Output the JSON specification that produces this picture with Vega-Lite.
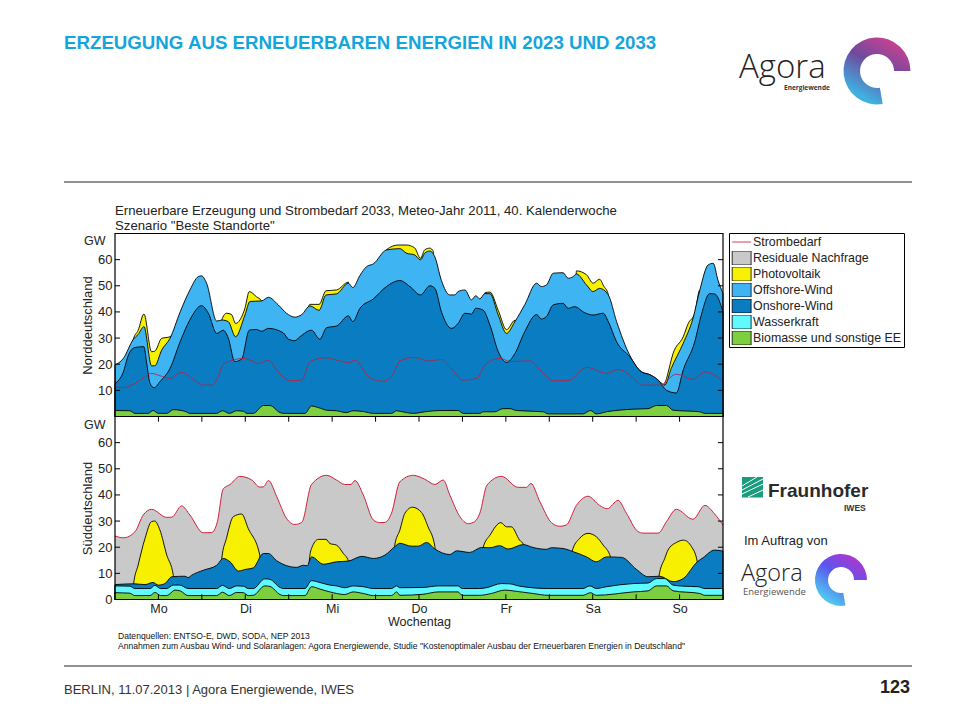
{
"$schema":"https://vega.github.io/schema/vega-lite/v6.json",
"width":960,"height":720,"padding":0,"autosize":{"type":"fit","contains":"padding"},
"background":"white",
"config":{"view":{"stroke":null},"font":"Liberation Sans","text":{"font":"Liberation Sans","baseline":"alphabetic"}},
"datasets":{
"frame":[{"h0":0,"h1":168,"g0":0,"g1":70}],
"xt":[{"h":12,"g0":68,"g1":70},{"h":24,"g0":68,"g1":70},{"h":36,"g0":68,"g1":70},{"h":48,"g0":68,"g1":70},{"h":60,"g0":68,"g1":70},{"h":72,"g0":68,"g1":70},{"h":84,"g0":68,"g1":70},{"h":96,"g0":68,"g1":70},{"h":108,"g0":68,"g1":70},{"h":120,"g0":68,"g1":70},{"h":132,"g0":68,"g1":70},{"h":144,"g0":68,"g1":70},{"h":156,"g0":68,"g1":70},{"h":12,"g0":0,"g1":2},{"h":24,"g0":0,"g1":2},{"h":36,"g0":0,"g1":2},{"h":48,"g0":0,"g1":2},{"h":60,"g0":0,"g1":2},{"h":72,"g0":0,"g1":2},{"h":84,"g0":0,"g1":2},{"h":96,"g0":0,"g1":2},{"h":108,"g0":0,"g1":2},{"h":120,"g0":0,"g1":2},{"h":132,"g0":0,"g1":2},{"h":144,"g0":0,"g1":2},{"h":156,"g0":0,"g1":2}],
"yt":[{"v":10,"a":0,"b":1.4},{"v":20,"a":0,"b":1.4},{"v":30,"a":0,"b":1.4},{"v":40,"a":0,"b":1.4},{"v":50,"a":0,"b":1.4},{"v":60,"a":0,"b":1.4},{"v":10,"a":168,"b":166.6},{"v":20,"a":168,"b":166.6},{"v":30,"a":168,"b":166.6},{"v":40,"a":168,"b":166.6},{"v":50,"a":168,"b":166.6},{"v":60,"a":168,"b":166.6}],
"n_off":[{"h":0,"gw":19.7},{"h":2.3,"gw":22.2},{"h":5.1,"gw":29.6},{"h":6.4,"gw":31.4},{"h":8,"gw":34.4},{"h":10.1,"gw":19.4},{"h":11,"gw":19.4},{"h":12.9,"gw":25.4},{"h":15.2,"gw":29.9},{"h":18,"gw":40},{"h":20.7,"gw":48.4},{"h":23,"gw":53.5},{"h":23.9,"gw":53.8},{"h":25.3,"gw":51},{"h":28.1,"gw":36.5},{"h":29.5,"gw":36.9},{"h":31.3,"gw":36.3},{"h":33.3,"gw":30.5},{"h":35.9,"gw":38.8},{"h":37.3,"gw":44},{"h":40.5,"gw":44.2},{"h":42.4,"gw":45.6},{"h":45.1,"gw":42.7},{"h":47.4,"gw":39.5},{"h":49.7,"gw":38},{"h":51.6,"gw":39},{"h":53.9,"gw":42.3},{"h":56.4,"gw":40.6},{"h":58.3,"gw":46.5},{"h":61.2,"gw":46.9},{"h":64.5,"gw":51},{"h":65.7,"gw":49.3},{"h":67.7,"gw":54},{"h":69.5,"gw":57.3},{"h":71.4,"gw":58.4},{"h":75,"gw":63.7},{"h":78.7,"gw":64.2},{"h":80.5,"gw":62.5},{"h":82.8,"gw":61.8},{"h":84.4,"gw":59.9},{"h":85.6,"gw":62.5},{"h":87,"gw":63.3},{"h":88.4,"gw":61},{"h":90.2,"gw":52},{"h":92.5,"gw":46.5},{"h":93.9,"gw":46.5},{"h":94.8,"gw":47.8},{"h":96.7,"gw":48.4},{"h":98.5,"gw":44.6},{"h":99.7,"gw":46.2},{"h":100.8,"gw":45},{"h":102.2,"gw":47},{"h":103.6,"gw":47},{"h":105.9,"gw":38.8},{"h":108.2,"gw":31.8},{"h":110.5,"gw":36.3},{"h":113.2,"gw":42.7},{"h":116.5,"gw":51},{"h":117.8,"gw":49.7},{"h":119.2,"gw":50.3},{"h":121.1,"gw":54.8},{"h":123.8,"gw":55},{"h":125.2,"gw":52.9},{"h":126.6,"gw":53.5},{"h":127.5,"gw":54.5},{"h":130.3,"gw":50.3},{"h":132.1,"gw":47.8},{"h":133.9,"gw":49},{"h":136.3,"gw":46.5},{"h":138.6,"gw":36.3},{"h":142.2,"gw":23.5},{"h":145.5,"gw":17.1},{"h":147.8,"gw":16},{"h":150.1,"gw":13.9},{"h":151.9,"gw":12},{"h":153.7,"gw":18.4},{"h":157,"gw":28},{"h":159.7,"gw":37.5},{"h":161.6,"gw":48.4},{"h":163.9,"gw":58},{"h":165.3,"gw":58.6},{"h":166.6,"gw":52.2},{"h":168,"gw":47.1}],
"n_pv":[{"h":0,"gw":0},{"h":4.8,"gw":0},{"h":5.1,"gw":29.6},{"h":6.4,"gw":33},{"h":8,"gw":39.2},{"h":10.1,"gw":24.8},{"h":11,"gw":25},{"h":12.9,"gw":29.9},{"h":15.2,"gw":30.5},{"h":16.1,"gw":31.5},{"h":16.5,"gw":0},{"h":29,"gw":0},{"h":29.5,"gw":36.9},{"h":30.8,"gw":39.5},{"h":32.2,"gw":39},{"h":33.3,"gw":35.6},{"h":35.9,"gw":41.4},{"h":37.1,"gw":47.8},{"h":39.1,"gw":45.8},{"h":40.5,"gw":44.2},{"h":40.8,"gw":0},{"h":53,"gw":0},{"h":53.5,"gw":42.2},{"h":53.9,"gw":42.9},{"h":56.4,"gw":42.9},{"h":58.3,"gw":48.1},{"h":61.2,"gw":48.4},{"h":64.5,"gw":51.4},{"h":64.8,"gw":0},{"h":74.5,"gw":0},{"h":75,"gw":63.8},{"h":78.3,"gw":65.6},{"h":80.5,"gw":65.6},{"h":82.8,"gw":64.5},{"h":84.4,"gw":60.5},{"h":85.6,"gw":63.8},{"h":87,"gw":64.4},{"h":88,"gw":63},{"h":88.3,"gw":0},{"h":101.8,"gw":0},{"h":102.2,"gw":47.3},{"h":103.6,"gw":47.6},{"h":105.9,"gw":40.6},{"h":108.2,"gw":33.2},{"h":110.5,"gw":36.8},{"h":110.8,"gw":0},{"h":126.8,"gw":0},{"h":127.5,"gw":55.7},{"h":130.3,"gw":54.2},{"h":132.1,"gw":51},{"h":133.9,"gw":52.5},{"h":135,"gw":50},{"h":136.3,"gw":46.7},{"h":136.6,"gw":0},{"h":151.6,"gw":0},{"h":151.9,"gw":12.2},{"h":152.4,"gw":14.5},{"h":154.2,"gw":24.1},{"h":157,"gw":30.5},{"h":158.4,"gw":35.6},{"h":160.2,"gw":39.5},{"h":161.6,"gw":48.4},{"h":161.9,"gw":0},{"h":168,"gw":0}],
"n_on":[{"h":0,"gw":12.6},{"h":2.3,"gw":17},{"h":3.7,"gw":23.5},{"h":5.5,"gw":26.4},{"h":8,"gw":26.7},{"h":8.7,"gw":21},{"h":9.7,"gw":12.6},{"h":10.8,"gw":11},{"h":12.4,"gw":13.3},{"h":15.2,"gw":18.4},{"h":18,"gw":28.6},{"h":20.7,"gw":37},{"h":23.9,"gw":42.4},{"h":25.8,"gw":39.5},{"h":28.1,"gw":31.8},{"h":29.9,"gw":33},{"h":31.3,"gw":30},{"h":33.1,"gw":21},{"h":35,"gw":22},{"h":37.1,"gw":33},{"h":39.1,"gw":33.3},{"h":40.5,"gw":32.6},{"h":42.4,"gw":33.7},{"h":46.5,"gw":32},{"h":47.9,"gw":29.6},{"h":49.7,"gw":29},{"h":51.1,"gw":30.5},{"h":54.3,"gw":33},{"h":56.6,"gw":29.6},{"h":58.5,"gw":34},{"h":61.2,"gw":34.6},{"h":64.5,"gw":38.5},{"h":65.7,"gw":36.3},{"h":67.7,"gw":41.4},{"h":71.4,"gw":45},{"h":75,"gw":49.7},{"h":78.7,"gw":52},{"h":81.5,"gw":49.7},{"h":84.4,"gw":46.5},{"h":87,"gw":50},{"h":88.4,"gw":49},{"h":90.2,"gw":40},{"h":93,"gw":33.7},{"h":94.8,"gw":35.6},{"h":96.7,"gw":39.5},{"h":98.5,"gw":39.2},{"h":99.7,"gw":41.4},{"h":101.7,"gw":40.7},{"h":103.6,"gw":35},{"h":105.9,"gw":24.8},{"h":108.2,"gw":20.7},{"h":110.5,"gw":24.1},{"h":113.2,"gw":32.4},{"h":116.5,"gw":39},{"h":117.8,"gw":37.3},{"h":119.2,"gw":38.2},{"h":121.1,"gw":42.7},{"h":123.8,"gw":43.3},{"h":125.2,"gw":41.4},{"h":127,"gw":42},{"h":129.8,"gw":39.7},{"h":132.1,"gw":38.8},{"h":134.9,"gw":39.5},{"h":136.3,"gw":36.3},{"h":138.6,"gw":28.6},{"h":142.2,"gw":22.9},{"h":145.5,"gw":17},{"h":147.8,"gw":16},{"h":150.1,"gw":13.9},{"h":152.4,"gw":10},{"h":155.1,"gw":9},{"h":157,"gw":17.8},{"h":160.2,"gw":28.6},{"h":162,"gw":38.8},{"h":164.3,"gw":47},{"h":165.7,"gw":46.9},{"h":168,"gw":40}],
"n_bio":[{"h":0,"gw":2.3},{"h":4.1,"gw":2.2},{"h":5.5,"gw":1.2},{"h":9.2,"gw":1.2},{"h":10.5,"gw":2.3},{"h":12,"gw":1.2},{"h":14.3,"gw":1.2},{"h":16.1,"gw":2.6},{"h":19.3,"gw":2},{"h":20.7,"gw":1.2},{"h":28.1,"gw":1.2},{"h":29.7,"gw":2.2},{"h":31.6,"gw":1.2},{"h":33.6,"gw":2.2},{"h":35.5,"gw":2},{"h":36.4,"gw":1.2},{"h":38.2,"gw":1.2},{"h":41,"gw":4.2},{"h":42.8,"gw":4.2},{"h":45.6,"gw":1.5},{"h":46.5,"gw":1.2},{"h":52.5,"gw":1.2},{"h":54.3,"gw":4},{"h":56.2,"gw":3.4},{"h":58.5,"gw":2.4},{"h":61.2,"gw":2.2},{"h":64,"gw":1.5},{"h":65.8,"gw":2.2},{"h":68.6,"gw":1.9},{"h":71.4,"gw":1.2},{"h":76.4,"gw":1.2},{"h":77.8,"gw":2.2},{"h":78.7,"gw":2},{"h":82.4,"gw":1.2},{"h":85.6,"gw":1.8},{"h":89.8,"gw":2.3},{"h":94.8,"gw":2.3},{"h":96.2,"gw":1.2},{"h":100.8,"gw":1.2},{"h":101.7,"gw":1.8},{"h":104.9,"gw":1.8},{"h":107.2,"gw":3},{"h":109.1,"gw":3},{"h":110.9,"gw":2.3},{"h":118.3,"gw":1.8},{"h":119.7,"gw":1},{"h":129.3,"gw":1},{"h":131.4,"gw":2.3},{"h":133,"gw":1},{"h":135.8,"gw":1.8},{"h":143.2,"gw":2.8},{"h":147.3,"gw":3},{"h":149.6,"gw":4.2},{"h":152.4,"gw":4.2},{"h":154.2,"gw":2.4},{"h":161.6,"gw":1.8},{"h":163,"gw":1.2},{"h":168,"gw":1.2}],
"n_dem":[{"h":0,"gw":11.4},{"h":2.3,"gw":11},{"h":5.1,"gw":12.3},{"h":7.9,"gw":14.8},{"h":10.1,"gw":16.5},{"h":12.4,"gw":15.6},{"h":15.2,"gw":14.6},{"h":18.4,"gw":16.9},{"h":21.2,"gw":14.6},{"h":24.4,"gw":12},{"h":26.7,"gw":12},{"h":28.5,"gw":15.2},{"h":29.9,"gw":19.9},{"h":32.7,"gw":21.6},{"h":35.5,"gw":22.2},{"h":37.8,"gw":21.3},{"h":39.6,"gw":20.3},{"h":42.4,"gw":21.5},{"h":45.1,"gw":17},{"h":48.3,"gw":13.7},{"h":51.6,"gw":13.9},{"h":53.9,"gw":21},{"h":58.5,"gw":22.5},{"h":61.2,"gw":21.6},{"h":64.5,"gw":20.6},{"h":66.3,"gw":21.6},{"h":70.4,"gw":14.8},{"h":74.1,"gw":13.5},{"h":76.4,"gw":15.2},{"h":78.7,"gw":21.2},{"h":82.8,"gw":22.6},{"h":86.5,"gw":21.2},{"h":90.2,"gw":21.8},{"h":92.5,"gw":19},{"h":96.2,"gw":13.9},{"h":99.9,"gw":14.6},{"h":102.6,"gw":20.3},{"h":106.3,"gw":22.2},{"h":109.5,"gw":21},{"h":114.6,"gw":21.3},{"h":118.3,"gw":16.5},{"h":121.1,"gw":13.7},{"h":125.2,"gw":13.7},{"h":130.3,"gw":18.8},{"h":135.8,"gw":16.5},{"h":139,"gw":18},{"h":143.2,"gw":14.8},{"h":145.5,"gw":12},{"h":150.5,"gw":12},{"h":155.1,"gw":16.2},{"h":159.7,"gw":14.2},{"h":163,"gw":17.1},{"h":168,"gw":13.5}],
"s_dem":[{"h":0,"gw":24.3},{"h":2.3,"gw":23.6},{"h":5.5,"gw":25.9},{"h":7.8,"gw":32.3},{"h":10.1,"gw":34.5},{"h":14.3,"gw":31.4},{"h":15.7,"gw":31.5},{"h":18.4,"gw":35.8},{"h":20.7,"gw":32.3},{"h":24.4,"gw":25.5},{"h":26.7,"gw":25.6},{"h":28.3,"gw":29.8},{"h":29.9,"gw":42.3},{"h":31.8,"gw":44},{"h":34.5,"gw":47.1},{"h":37.8,"gw":45.7},{"h":40,"gw":43},{"h":41,"gw":43.1},{"h":42.4,"gw":45.5},{"h":44.7,"gw":39.3},{"h":47.4,"gw":31},{"h":49.7,"gw":28.7},{"h":51.6,"gw":29.5},{"h":54.3,"gw":44},{"h":58.5,"gw":47.5},{"h":61.2,"gw":45.7},{"h":63.5,"gw":44},{"h":65.2,"gw":44},{"h":66.3,"gw":45.5},{"h":68.6,"gw":40},{"h":71.4,"gw":30.4},{"h":73.2,"gw":29.4},{"h":74.6,"gw":29.5},{"h":76.4,"gw":33},{"h":78.7,"gw":45},{"h":82.4,"gw":47.5},{"h":85.6,"gw":46},{"h":88.4,"gw":44},{"h":90.7,"gw":45.7},{"h":92.5,"gw":40},{"h":95.3,"gw":31.7},{"h":97.6,"gw":29},{"h":99.4,"gw":29.8},{"h":100.8,"gw":33},{"h":102.8,"gw":43.8},{"h":106.8,"gw":47.1},{"h":111.4,"gw":42.9},{"h":113.7,"gw":42.9},{"h":114.9,"gw":44.4},{"h":117.4,"gw":37.4},{"h":120.6,"gw":29.4},{"h":122.9,"gw":28},{"h":124.7,"gw":28.5},{"h":127.5,"gw":36},{"h":130.7,"gw":39.5},{"h":133.9,"gw":36},{"h":136,"gw":34.7},{"h":139,"gw":37.9},{"h":141.3,"gw":33},{"h":144.5,"gw":26},{"h":145.9,"gw":25.4},{"h":150.1,"gw":25.4},{"h":152.4,"gw":29.8},{"h":155.1,"gw":34.5},{"h":159.7,"gw":30.7},{"h":163,"gw":36},{"h":165.7,"gw":32.7},{"h":168,"gw":28.5}],
"s_pv":[{"h":0,"gw":0},{"h":4.8,"gw":0},{"h":5.1,"gw":5.5},{"h":6.4,"gw":13.2},{"h":8.3,"gw":23.4},{"h":10.1,"gw":29.8},{"h":11,"gw":30},{"h":12.4,"gw":26.6},{"h":14.3,"gw":17},{"h":16.1,"gw":9.3},{"h":16.5,"gw":0},{"h":29.2,"gw":0},{"h":29.5,"gw":15.7},{"h":30.8,"gw":23.4},{"h":32.7,"gw":31.7},{"h":35,"gw":32.7},{"h":36.8,"gw":27.2},{"h":40,"gw":17},{"h":40.3,"gw":0},{"h":53.4,"gw":0},{"h":53.7,"gw":15},{"h":54.3,"gw":19.5},{"h":56.2,"gw":23},{"h":58.3,"gw":23},{"h":59.4,"gw":21.4},{"h":61.2,"gw":20.8},{"h":63.1,"gw":17.6},{"h":64.5,"gw":14.7},{"h":64.8,"gw":0},{"h":76.7,"gw":0},{"h":77.3,"gw":20.8},{"h":78.7,"gw":26.5},{"h":80.1,"gw":33},{"h":82.2,"gw":35.3},{"h":84.7,"gw":33.3},{"h":86.5,"gw":27.8},{"h":88.4,"gw":20.2},{"h":88.7,"gw":0},{"h":101.4,"gw":0},{"h":101.7,"gw":19.8},{"h":103.6,"gw":24.6},{"h":106.6,"gw":29.4},{"h":108.2,"gw":27.8},{"h":109.5,"gw":27.8},{"h":111.8,"gw":22.7},{"h":112.9,"gw":21},{"h":113.2,"gw":0},{"h":126,"gw":0},{"h":126.3,"gw":18.5},{"h":128.4,"gw":23.4},{"h":130.7,"gw":25.3},{"h":133,"gw":24},{"h":134.9,"gw":20.8},{"h":136.9,"gw":16.3},{"h":137.2,"gw":0},{"h":150.1,"gw":0},{"h":150.3,"gw":8.9},{"h":151.9,"gw":15.7},{"h":152.8,"gw":18.9},{"h":155.1,"gw":21.8},{"h":157.1,"gw":22.7},{"h":159.3,"gw":20.2},{"h":160.9,"gw":14.4},{"h":161.2,"gw":0},{"h":168,"gw":0}],
"s_on":[{"h":0,"gw":5.7},{"h":5.1,"gw":6},{"h":8.3,"gw":5.7},{"h":10.5,"gw":6.5},{"h":12,"gw":5.5},{"h":13.8,"gw":6.1},{"h":15.7,"gw":8.7},{"h":19.3,"gw":8.9},{"h":20.2,"gw":8.4},{"h":21.2,"gw":9.3},{"h":24.4,"gw":11.2},{"h":28.1,"gw":13.1},{"h":29.9,"gw":15.7},{"h":31.8,"gw":14.4},{"h":34.1,"gw":10.9},{"h":36,"gw":11.5},{"h":38.2,"gw":12.1},{"h":41,"gw":17.6},{"h":42.4,"gw":17.6},{"h":44.7,"gw":14.8},{"h":50.2,"gw":12.3},{"h":52,"gw":13.1},{"h":53.1,"gw":12.9},{"h":54.3,"gw":16.3},{"h":57.6,"gw":13.5},{"h":61.2,"gw":14.4},{"h":64.5,"gw":14.7},{"h":68.2,"gw":16.5},{"h":71.4,"gw":15.7},{"h":74.6,"gw":17},{"h":77.3,"gw":20.2},{"h":78.7,"gw":21.5},{"h":81.9,"gw":20.4},{"h":83.8,"gw":20.4},{"h":86.1,"gw":21.8},{"h":88.4,"gw":19.3},{"h":92.5,"gw":17.2},{"h":94.4,"gw":18.6},{"h":98,"gw":18},{"h":101.3,"gw":19.9},{"h":103.6,"gw":19.8},{"h":106.3,"gw":20.6},{"h":108.6,"gw":19.3},{"h":112.8,"gw":21},{"h":115.5,"gw":19.9},{"h":119.2,"gw":19.2},{"h":120.6,"gw":19.8},{"h":123.8,"gw":19.5},{"h":126.6,"gw":18.3},{"h":130.3,"gw":16.3},{"h":133,"gw":14.4},{"h":135.8,"gw":16.3},{"h":140,"gw":16.1},{"h":144.1,"gw":11.5},{"h":147.3,"gw":8.7},{"h":150.5,"gw":8.9},{"h":154.2,"gw":6.8},{"h":157,"gw":8},{"h":160.9,"gw":14.4},{"h":162.5,"gw":16},{"h":165.7,"gw":18.9},{"h":168,"gw":18.5}],
"s_was":[{"h":0,"gw":5.2},{"h":4.1,"gw":5.1},{"h":5.5,"gw":4.2},{"h":9.7,"gw":4.2},{"h":11,"gw":5.4},{"h":12.6,"gw":4.2},{"h":14.3,"gw":4.2},{"h":16.1,"gw":5.5},{"h":17.9,"gw":5.5},{"h":20.2,"gw":4.2},{"h":28.1,"gw":4.2},{"h":29.7,"gw":5.4},{"h":31.6,"gw":4.2},{"h":33.6,"gw":5.2},{"h":35.5,"gw":5.1},{"h":36.8,"gw":4.2},{"h":38.2,"gw":4.2},{"h":41.4,"gw":7.9},{"h":42.8,"gw":7.7},{"h":45.6,"gw":4.6},{"h":46.5,"gw":4.2},{"h":52.5,"gw":4.2},{"h":54.3,"gw":7.2},{"h":56.6,"gw":6.5},{"h":59.4,"gw":5.5},{"h":61.2,"gw":5.2},{"h":63.5,"gw":4.5},{"h":65.8,"gw":5.2},{"h":68.6,"gw":4.9},{"h":71.4,"gw":4.2},{"h":76.4,"gw":4.2},{"h":77.8,"gw":5.2},{"h":78.7,"gw":4.5},{"h":85.1,"gw":4.6},{"h":89.3,"gw":5.2},{"h":94.8,"gw":5.2},{"h":95.9,"gw":4.2},{"h":100.8,"gw":4.2},{"h":102.6,"gw":4.5},{"h":106.8,"gw":6.1},{"h":109.1,"gw":6},{"h":111.8,"gw":5.1},{"h":119.7,"gw":4.2},{"h":129.3,"gw":4.2},{"h":131.2,"gw":5.2},{"h":133,"gw":4.2},{"h":135.8,"gw":4.9},{"h":143.2,"gw":6.1},{"h":147.3,"gw":6.3},{"h":149.6,"gw":8},{"h":151.9,"gw":8},{"h":154.2,"gw":5.5},{"h":157,"gw":5.1},{"h":161.1,"gw":4.9},{"h":163,"gw":4.2},{"h":168,"gw":4.2}],
"s_bio":[{"h":0,"gw":2.6},{"h":4.1,"gw":2.4},{"h":5.5,"gw":1.5},{"h":9.7,"gw":1.5},{"h":11,"gw":2.7},{"h":12.6,"gw":1.5},{"h":14.3,"gw":1.5},{"h":16.6,"gw":3.6},{"h":18,"gw":3.3},{"h":20.2,"gw":1.5},{"h":28.1,"gw":1.5},{"h":29.7,"gw":2.8},{"h":31.6,"gw":1.5},{"h":33.6,"gw":2.7},{"h":35.5,"gw":2.6},{"h":36.8,"gw":1.5},{"h":38.2,"gw":1.6},{"h":41.4,"gw":5.2},{"h":42.8,"gw":5},{"h":45.6,"gw":1.9},{"h":46.5,"gw":1.5},{"h":52.5,"gw":1.5},{"h":54.3,"gw":4.9},{"h":56.6,"gw":4},{"h":59.4,"gw":2.9},{"h":63.5,"gw":1.9},{"h":65.8,"gw":2.9},{"h":68.6,"gw":2.3},{"h":71.4,"gw":1.5},{"h":76.4,"gw":1.5},{"h":77.8,"gw":2.9},{"h":78.7,"gw":1.6},{"h":85.1,"gw":2},{"h":89.3,"gw":2.9},{"h":94.8,"gw":2.9},{"h":95.9,"gw":1.6},{"h":100.8,"gw":1.6},{"h":104,"gw":2.3},{"h":107.7,"gw":3.6},{"h":110.5,"gw":3.2},{"h":115.5,"gw":2.3},{"h":119.7,"gw":1.6},{"h":129.3,"gw":1.6},{"h":131.4,"gw":2.6},{"h":133,"gw":1.6},{"h":143.2,"gw":2.9},{"h":147.3,"gw":3.3},{"h":149.6,"gw":5.2},{"h":152.4,"gw":5.2},{"h":154.2,"gw":3.3},{"h":161.6,"gw":2.3},{"h":163,"gw":1.6},{"h":168,"gw":1.6}]
},
"resolve":{"scale":{"y":"independent"},"axis":{"y":"independent"}},
"layer":[
{
"encoding":{"x":{"field":"h","type":"quantitative","scale":{"domain":[0,168],"range":[115,723],"nice":false,"zero":false},"axis":{"orient":"bottom","offset":-120,"values":[12,36,60,84,108,132,156],"labelExpr":"({12:'Mo',36:'Di',60:'Mi',84:'Do',108:'Fr',132:'Sa',156:'So'})[datum.value]","ticks":false,"domain":false,"grid":false,"labelFontSize":12.5,"labelPadding":2,"labelColor":"#222","title":"Wochentag","titleFontSize":12.5,"titleFontWeight":"normal","titleColor":"#222","titlePadding":1}},
"y":{"field":"gw","type":"quantitative","scale":{"domain":[0,70],"range":[416.5,233.5],"nice":false,"zero":false},"axis":{"orient":"left","offset":-115,"values":[10,20,30,40,50,60],"ticks":false,"domain":false,"grid":false,"labelFontSize":13,"labelPadding":3,"labelColor":"#222","title":"Norddeutschland","titleFontSize":13,"titleFontWeight":"normal","titleColor":"#222","titleX":-21}}},
"layer":[
{"data":{"name":"n_pv"},"mark":{"type":"area","interpolate":"monotone","stroke":"black","strokeWidth":0.9},"encoding":{"color":{"datum":"Photovoltaik","type":"nominal","scale":{"domain":["Strombedarf","Residuale Nachfrage","Photovoltaik","Offshore-Wind","Onshore-Wind","Wasserkraft","Biomasse und sonstige EE"],"range":["#c8102e","#c9c9c9","#f7f000","#3fb4f2","#0a7dc2","#5ffaff","#7ccf3e"]},"legend":{"orient":"none","legendX":729,"legendY":233,"title":null,"padding":2,"fillColor":"white","strokeColor":"black","symbolType":"M-0.9,-1H1.8V1H-0.9Z","symbolSize":196,"symbolStrokeColor":"black","symbolStrokeWidth":0.8,"labelFont":"Liberation Sans","labelFontSize":12.4,"labelColor":"#222","labelOffset":7,"rowPadding":2,"clipHeight":14,"columnPadding":0,"encoding":{"symbols":{"shape":{"value":{"expr":"datum.value==='Strombedarf'?'M-0.9,0H1.8':'M-0.9,-1H1.8V1H-0.9Z'"}},"stroke":{"value":{"expr":"datum.value==='Strombedarf'?'#c8102e':'black'"}}}}}}}},
{"data":{"name":"n_off"},"mark":{"type":"area","interpolate":"monotone","stroke":"black","strokeWidth":0.9},"encoding":{"color":{"datum":"Offshore-Wind","type":"nominal"}}},
{"data":{"name":"n_on"},"mark":{"type":"area","interpolate":"monotone","stroke":"black","strokeWidth":0.9},"encoding":{"color":{"datum":"Onshore-Wind","type":"nominal"}}},
{"data":{"name":"n_bio"},"mark":{"type":"area","interpolate":"monotone","stroke":"black","strokeWidth":0.9},"encoding":{"color":{"datum":"Biomasse und sonstige EE","type":"nominal"}}},
{"data":{"name":"n_dem"},"mark":{"type":"line","interpolate":"monotone","stroke":"#b8203c","strokeWidth":1,"opacity":0.85},"encoding":{}},
{"data":{"name":"yt"},"mark":{"type":"rule","stroke":"black","strokeWidth":1},"encoding":{"y":{"field":"v","type":"quantitative"},"x":{"field":"a","type":"quantitative"},"x2":{"field":"b"}}},
{"data":{"name":"frame"},"mark":{"type":"rect","fillOpacity":0,"fill":"white","stroke":"black","strokeWidth":1.2},"encoding":{"x":{"field":"h0","type":"quantitative"},"x2":{"field":"h1"},"y":{"field":"g0","type":"quantitative"},"y2":{"field":"g1"}}}
]},
{
"encoding":{"x":{"field":"h","type":"quantitative","scale":{"domain":[0,168],"range":[115,723],"nice":false,"zero":false},"axis":{"orient":"bottom","offset":-120,"values":[12,36,60,84,108,132,156],"labelExpr":"({12:'Mo',36:'Di',60:'Mi',84:'Do',108:'Fr',132:'Sa',156:'So'})[datum.value]","ticks":false,"domain":false,"grid":false,"labelFontSize":12.5,"labelPadding":2,"labelColor":"#222","title":"Wochentag","titleFontSize":12.5,"titleFontWeight":"normal","titleColor":"#222","titlePadding":1}},
"y":{"field":"gw","type":"quantitative","scale":{"domain":[0,70],"range":[599.5,416.5],"nice":false,"zero":false},"axis":{"orient":"left","offset":-115,"values":[0,10,20,30,40,50,60],"ticks":false,"domain":false,"grid":false,"labelFontSize":13,"labelPadding":3,"labelColor":"#222","title":"Süddeutschland","titleFontSize":13,"titleFontWeight":"normal","titleColor":"#222","titleX":-21}}},
"layer":[
{"data":{"name":"s_dem"},"mark":{"type":"area","interpolate":"monotone"},"encoding":{"color":{"datum":"Residuale Nachfrage","type":"nominal"}}},
{"data":{"name":"s_pv"},"mark":{"type":"area","interpolate":"monotone","stroke":"black","strokeWidth":0.9},"encoding":{"color":{"datum":"Photovoltaik","type":"nominal"}}},
{"data":{"name":"s_on"},"mark":{"type":"area","interpolate":"monotone","stroke":"black","strokeWidth":0.9},"encoding":{"color":{"datum":"Onshore-Wind","type":"nominal"}}},
{"data":{"name":"s_was"},"mark":{"type":"area","interpolate":"monotone","stroke":"black","strokeWidth":0.9},"encoding":{"color":{"datum":"Wasserkraft","type":"nominal"}}},
{"data":{"name":"s_bio"},"mark":{"type":"area","interpolate":"monotone","stroke":"black","strokeWidth":0.9},"encoding":{"color":{"datum":"Biomasse und sonstige EE","type":"nominal"}}},
{"data":{"name":"s_dem"},"mark":{"type":"line","interpolate":"monotone","stroke":"#d0203c","strokeWidth":1},"encoding":{}},
{"data":{"name":"yt"},"mark":{"type":"rule","stroke":"black","strokeWidth":1},"encoding":{"y":{"field":"v","type":"quantitative"},"x":{"field":"a","type":"quantitative"},"x2":{"field":"b"}}},
{"data":{"name":"xt"},"mark":{"type":"rule","stroke":"black","strokeWidth":1},"encoding":{"y":{"field":"g0","type":"quantitative"},"y2":{"field":"g1"}}},
{"data":{"name":"frame"},"mark":{"type":"rect","fillOpacity":0,"fill":"white","stroke":"black","strokeWidth":1.2},"encoding":{"x":{"field":"h0","type":"quantitative"},"x2":{"field":"h1"},"y":{"field":"g0","type":"quantitative"},"y2":{"field":"g1"}}}
]},
{"data":{"values":[{"a":1}]},"layer":[
{"mark":{"type":"text","x":64,"y":48.5,"text":"ERZEUGUNG AUS ERNEUERBAREN ENERGIEN IN 2023 UND 2033","font":"Liberation Sans","fontSize":18.7,"fontWeight":"bold","fill":"#14a5dc","align":"left"}},
{"mark":{"type":"text","x":115,"y":215,"text":"Erneuerbare Erzeugung und Strombedarf 2033, Meteo-Jahr 2011, 40. Kalenderwoche","fontSize":13.2,"fill":"#222","align":"left"}},
{"mark":{"type":"text","x":115,"y":230,"text":"Szenario \"Beste Standorte\"","fontSize":13.2,"fill":"#222","align":"left"}},
{"mark":{"type":"text","x":84,"y":245,"text":"GW","fontSize":12.5,"fill":"#222","align":"left"}},
{"mark":{"type":"text","x":84,"y":429,"text":"GW","fontSize":12.5,"fill":"#222","align":"left"}},
{"mark":{"type":"text","x":118,"y":639,"text":"Datenquellen: ENTSO-E, DWD, SODA, NEP 2013","fontSize":8.6,"fill":"#111","align":"left"}},
{"mark":{"type":"text","x":118,"y":649,"text":"Annahmen zum Ausbau Wind- und Solaranlagen: Agora Energiewende, Studie \"Kostenoptimaler Ausbau der Erneuerbaren Energien in Deutschland\"","fontSize":8.6,"fill":"#111","align":"left"}},
{"mark":{"type":"text","x":64,"y":694,"text":"BERLIN,  11.07.2013 | Agora Energiewende,  IWES","fontSize":13,"fill":"#333","align":"left"}},
{"mark":{"type":"text","x":910,"y":693,"text":"123","fontSize":18,"fontWeight":"bold","fill":"#222","align":"right"}},
{"mark":{"type":"rule","stroke":"#222","strokeWidth":1},"encoding":{"x":{"value":64},"x2":{"value":912},"y":{"value":182}}},
{"mark":{"type":"rule","stroke":"#222","strokeWidth":1},"encoding":{"x":{"value":64},"x2":{"value":912},"y":{"value":666}}},
{"mark":{"type":"text","x":739,"y":78,"text":"Agora","font":"Open Sans","fontSize":33,"fontWeight":300,"fill":"#222","align":"left"}},
{"mark":{"type":"text","x":784,"y":90,"text":"Energiewende","font":"Open Sans","fontSize":6.5,"fontWeight":"bold","fill":"#333","align":"left"}},
{"mark":{"type":"arc","x":877,"y":71,"theta":2.97,"theta2":7.854,"innerRadius":17,"outerRadius":33.5,"fill":{"gradient":"linear","x1":1,"y1":0.1,"x2":0.5,"y2":1,"stops":[{"offset":0,"color":"#d8408f"},{"offset":0.5,"color":"#6f4a9e"},{"offset":1,"color":"#3fb0e0"}]}}},
{"mark":{"type":"rect","x":742,"x2":763,"y":477,"y2":497.5,"fill":"#179c7d"}},
{"mark":{"type":"rule","stroke":"white","strokeWidth":1},"encoding":{"x":{"value":742},"y":{"value":486},"x2":{"value":757},"y2":{"value":477}}},
{"mark":{"type":"rule","stroke":"white","strokeWidth":1},"encoding":{"x":{"value":742},"y":{"value":490},"x2":{"value":763},"y2":{"value":479}}},
{"mark":{"type":"rule","stroke":"white","strokeWidth":1},"encoding":{"x":{"value":742},"y":{"value":494},"x2":{"value":763},"y2":{"value":484}}},
{"mark":{"type":"rule","stroke":"white","strokeWidth":1},"encoding":{"x":{"value":748},"y":{"value":497},"x2":{"value":763},"y2":{"value":490}}},
{"mark":{"type":"text","x":768,"y":496.5,"text":"Fraunhofer","fontSize":19,"fontWeight":"bold","fill":"#2a2a2a","align":"left"}},
{"mark":{"type":"text","x":844,"y":510.5,"text":"IWES","fontSize":8.5,"fontWeight":"bold","fill":"#333","align":"left"}},
{"mark":{"type":"text","x":744,"y":545,"text":"Im Auftrag von","fontSize":13,"fill":"#222","align":"left"}},
{"mark":{"type":"text","x":741,"y":580.5,"text":"Agora","font":"Open Sans","fontSize":23.5,"fontWeight":300,"fill":"#222","align":"left"}},
{"mark":{"type":"text","x":743,"y":595,"text":"Energiewende","font":"Open Sans","fontSize":9.5,"fill":"#555","align":"left"}},
{"mark":{"type":"arc","x":841,"y":580,"theta":2.97,"theta2":7.854,"innerRadius":13,"outerRadius":26,"fill":{"gradient":"linear","x1":1,"y1":0.1,"x2":0.4,"y2":1,"stops":[{"offset":0,"color":"#c030c8"},{"offset":0.5,"color":"#5a55ee"},{"offset":1,"color":"#50c8f0"}]}}}
]}
]
}
